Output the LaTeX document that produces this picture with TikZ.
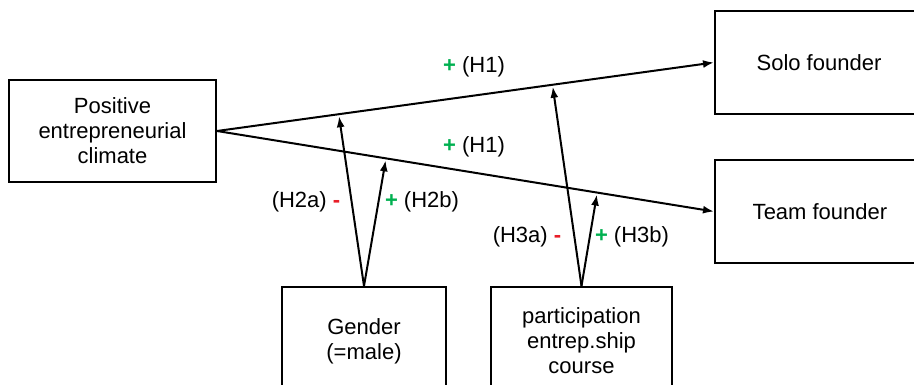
\documentclass[tikz,border=0pt]{standalone}
\usepackage{fontspec}
\setmainfont{Liberation Sans}
\usepackage{tikz}
\usetikzlibrary{arrows.meta, positioning}
\definecolor{plusgreen}{RGB}{0,176,80}
\definecolor{minusred}{RGB}{232,30,40}

\newcommand{\pl}{\textcolor{plusgreen}{\textbf{+}}}
\newcommand{\mi}{\textcolor{minusred}{\textbf{-}}}

\begin{document}
\begin{tikzpicture}[x=1pt, y=1pt, line width=2pt,
		>={Latex[length=11pt,width=8pt]},
		box/.style={draw, align=center, inner sep=0pt, font=\fontsize{22}{25}\selectfont},
		lab/.style={inner sep=0pt, font=\fontsize{22}{25}\selectfont}]
		\useasboundingbox (0,0) rectangle (914,384);
		\clip (0,0) rectangle (914,384);
		
		% 方框
		\node[box, minimum width=207pt, minimum height=102pt] (climate) at (112.5,253) {Positive\\entrepreneurial\\climate};
		\node[box, minimum width=208pt, minimum height=103pt, anchor=west] (solo) at (714,321.5) {Solo founder};
		\node[box, minimum width=210pt, minimum height=103pt, anchor=west] (team) at (714,172.5) {Team founder};
		\node[box, minimum width=164pt, minimum height=108pt, anchor=north] (gender) at (364,98) {Gender\\(=male)};
		\node[box, minimum width=181pt, minimum height=108pt, anchor=north] (course) at (581.5,98) {participation\\entrep.ship\\course};
		
		% 主效应
		\draw[->] (climate.east) -- coordinate[pos=0.245] (m2a) coordinate[pos=0.675] (m3a) (solo.west);
		\draw[->] (climate.east) -- coordinate[pos=0.34] (m2b) coordinate[pos=0.765] (m3b) (team.west);
		
		% 调节效应
		\draw[->, shorten >=2pt] (gender.north) -- (m2a);
		\draw[->, shorten >=2pt] (gender.north) -- (m2b);
		\draw[->, shorten >=2pt] (course.north) -- (m3a);
		\draw[->, shorten >=2pt] (course.north) -- (m3b);
		
		% 假设标注
		\node[lab] (h1a) at (474,317) {\pl\ (H1)};
		\node[lab] (h1b) at (474,237) {\pl\ (H1)};
		\node[lab] (h2a) at (306,182) {(H2a) \mi};
		\node[lab] (h2b) at (422,182) {\pl\ (H2b)};
		\node[lab] (h3a) at (527,147) {(H3a) \mi};
		\node[lab] (h3b) at (632,147) {\pl\ (H3b)};
	\end{tikzpicture}
\end{document}
